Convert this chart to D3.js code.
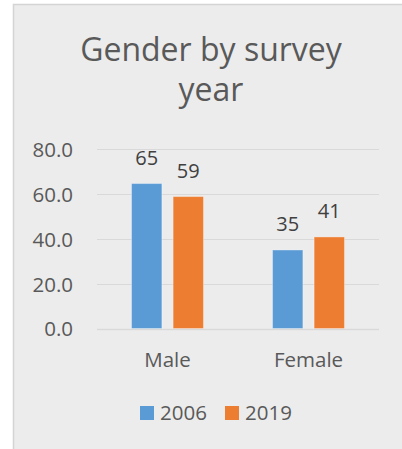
<!DOCTYPE html>
<html><head><meta charset="utf-8">
<script src="https://cdn.jsdelivr.net/npm/d3@7"></script>
<style>html,body{margin:0;padding:0;background:#fff;}svg{display:block;}</style>
</head><body>
<script>
const categories = ["Male", "Female"];
const seriesNames = ["2006", "2019"];
const values2006 = [64.6, 35.0];
const values2019 = [58.8, 40.8];
const yTicks = [0, 20, 40, 60, 80];
const colors = ["#5B9BD5", "#ED7D31"];
const titleLines = ["Gender by survey", "year"];

const W = 402, H = 449;
const font = "'Open Sans', 'Noto Sans', sans-serif";
const txt = "#595959";
const svg = d3.select("body").append("svg").attr("width", W).attr("height", H);

svg.append("rect").attr("x", 13.5).attr("y", 4.5).attr("width", W).attr("height", H)
  .attr("fill", "#ececec").attr("stroke", "#d4d4d4").attr("stroke-width", 1.5);

titleLines.forEach((t, i) => {
  svg.append("text").attr("x", 211).attr("y", 61 + i * 40).attr("text-anchor", "middle")
    .attr("font-family", font).attr("font-size", 32).attr("fill", txt).text(t);
});

const x0 = d3.scaleBand().domain(categories).range([97, 379]);
const x1 = d3.scaleBand().domain(seriesNames).range([0, x0.bandwidth()]).paddingInner(0.27).paddingOuter(0.83);
const y = d3.scaleLinear().domain([0, 80]).range([328.5, 149]);

const g = svg.append("g");
g.selectAll("line.grid").data(yTicks).join("line").attr("class", "grid")
  .attr("x1", 97).attr("x2", 379).attr("y1", d => Math.round(y(d)) + 0.5).attr("y2", d => Math.round(y(d)) + 0.5)
  .attr("stroke", "#d9d9d9").attr("stroke-width", d => d === 0 ? 1.5 : 1.2);

const yAxis = d3.axisLeft(y).tickValues(yTicks).tickFormat(d3.format(".1f")).tickSize(0).tickPadding(0);
const ya = svg.append("g").attr("transform", "translate(73,0)").call(yAxis);
ya.select(".domain").remove();
ya.selectAll("text").attr("font-family", font).attr("font-size", 20.5).attr("fill", txt).attr("dy", "0.36em");

const data = categories.map((c, i) => ({cat: c, vals: [
  {s: seriesNames[0], v: values2006[i], c: colors[0]},
  {s: seriesNames[1], v: values2019[i], c: colors[1]}]}));

const grp = svg.selectAll("g.cat").data(data).join("g").attr("class", "cat")
  .attr("transform", d => `translate(${x0(d.cat)},0)`);
grp.selectAll("rect").data(d => d.vals).join("rect")
  .attr("x", d => x1(d.s)).attr("width", x1.bandwidth())
  .attr("y", d => y(d.v)).attr("height", d => y(0) - y(d.v))
  .attr("fill", d => d.c).attr("stroke", "rgba(255,255,255,0.35)").attr("stroke-width", 1);
grp.selectAll("text").data(d => d.vals).join("text")
  .attr("x", d => x1(d.s) + x1.bandwidth() / 2).attr("y", d => y(d.v) - 18.5)
  .attr("text-anchor", "middle").attr("font-family", font).attr("font-size", 20).attr("fill", "#404040")
  .text(d => d3.format(".0f")(d.v));

const xAxis = d3.axisBottom(x0).tickSize(0).tickPadding(0);
const xa = svg.append("g").attr("transform", "translate(0,367)").call(xAxis);
xa.select(".domain").remove();
xa.selectAll("text").attr("font-family", font).attr("font-size", 20.5).attr("fill", txt).attr("dy", 0);

const legX = [140, 225];
const leg = svg.selectAll("g.leg").data(seriesNames).join("g").attr("class", "leg")
  .attr("transform", (d, i) => `translate(${legX[i]},406)`);
leg.append("rect").attr("width", 14).attr("height", 14).attr("fill", (d, i) => colors[i]);
leg.append("text").attr("x", 20).attr("y", 14).attr("font-family", font).attr("font-size", 20.5)
  .attr("fill", txt).text(d => d);
</script>
</body></html>
